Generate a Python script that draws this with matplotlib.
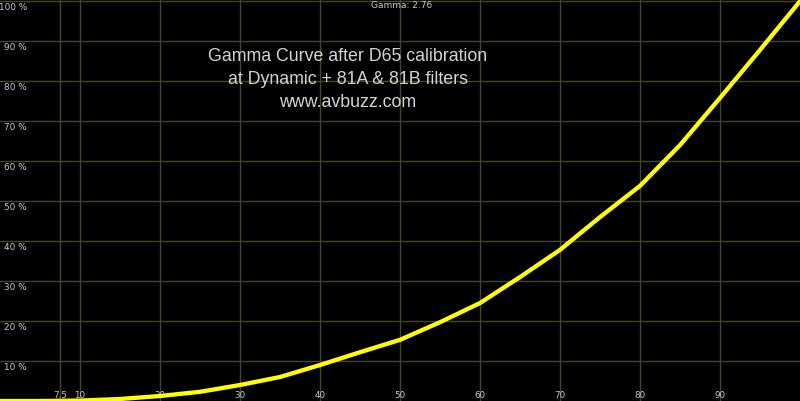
import matplotlib
matplotlib.use('Agg')
import matplotlib.pyplot as plt

# Gamma curve measurements (stimulus % vs luminance %)
stimulus = [0, 5, 10, 15, 20, 25, 30, 35, 40, 45, 50,
            55, 60, 65, 70, 75, 80, 85, 90, 95, 100]
luminance = [0, 0, 0.1, 0.5, 1.25, 2.3, 4.0, 6.0, 9.0, 12.2, 15.3,
             19.7, 24.5, 31.0, 37.8, 46.0, 53.8, 64.0, 75.8, 87.8, 100]

x_ticks = [7.5, 10, 20, 30, 40, 50, 60, 70, 80, 90]
x_labels = ['7.5', '10', '20', '30', '40', '50', '60', '70', '80', '90']
y_ticks = [10, 20, 30, 40, 50, 60, 70, 80, 90, 100]
y_labels = ['10 %', '20 %', '30 %', '40 %', '50 %', '60 %', '70 %', '80 %', '90 %', '100 %']

title_lines = 'Gamma Curve after D65 calibration\nat Dynamic + 81A & 81B filters\nwww.avbuzz.com'
gamma_text = 'Gamma: 2.76'

grid_col = '#45452a'
label_col = '#c8c8c8'

fig = plt.figure(figsize=(8, 4.01), dpi=100, facecolor='black')
ax = fig.add_axes([0, 0, 1, 1])
ax.set_facecolor('black')
ax.set_xlim(0, 100)
ax.set_ylim(0, 100.3)
ax.set_xticks([])
ax.set_yticks([])
for s in ax.spines.values():
    s.set_visible(False)

# grid
for xv in x_ticks:
    ax.axvline(xv, color=grid_col, lw=1, zorder=1)
for yv in y_ticks:
    ax.axhline(yv, color=grid_col, lw=1, zorder=1)

# tick labels drawn inside the plot
for xv, lab in zip(x_ticks, x_labels):
    ax.text(xv, 1.4, lab, color=label_col, fontsize=6.3, ha='center', va='center', zorder=2)
for yv, lab in zip(y_ticks, y_labels):
    ax.text(3.35, yv - 1.5, lab, color=label_col, fontsize=6.4, ha='right', va='center', zorder=2)

ax.text(50.2, 98.8, gamma_text, color=label_col, fontsize=6.5, ha='center', va='center')
ax.text(43.5, 80.5, title_lines, color='#d4d4d4', fontsize=12.8, ha='center', va='center',
        family='Liberation Sans', linespacing=1.45)

# the curve
ax.plot(stimulus, luminance, color='#ffff00', lw=3.1, solid_capstyle='round',
        solid_joinstyle='round', zorder=3)

plt.savefig('out.png', dpi=100, facecolor='black')
